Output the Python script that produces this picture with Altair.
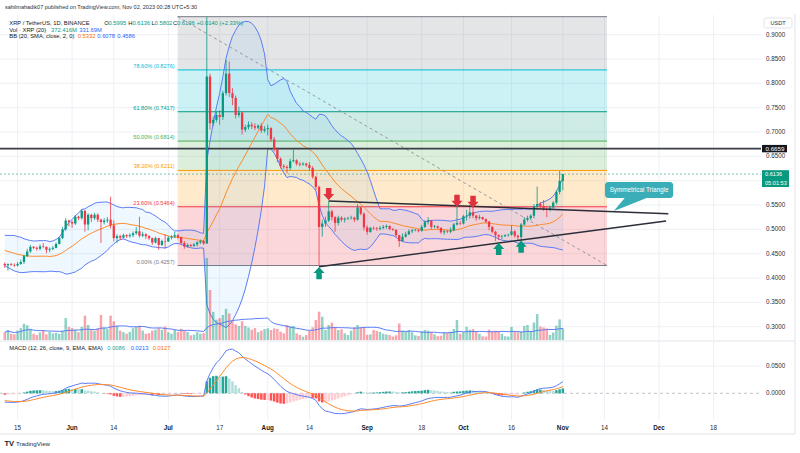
import altair as alt
import pandas as pd
import numpy as np

# ---------------- data (daily XRP/USDT, Binance) ----------------
WARM_START = "2023-04-11"   # closes before the visible window (indicator warm-up)
START = "2023-05-11"
REF = pd.Timestamp("2023-06-01")

WARMUP_CLOSE = [0.5080, 0.5040, 0.5130, 0.5250, 0.5260, 0.5230, 0.5110, 0.5260, 0.4860, 0.4730,
                0.4620, 0.4690, 0.4630, 0.4620, 0.4720, 0.4610, 0.4720, 0.4690, 0.4720, 0.4680,
                0.4580, 0.4620, 0.4640, 0.4580, 0.4720, 0.4480, 0.4480, 0.4290, 0.4300, 0.4290]

CLOSE = [
    # May 11-31
    0.4262, 0.4285, 0.4270, 0.4258, 0.4290, 0.4330, 0.4450, 0.4545, 0.4640, 0.4620, 0.4600,
    0.4650, 0.4640, 0.4580, 0.4600, 0.4620, 0.4700, 0.4820, 0.5000, 0.5180, 0.5150,
    # Jun
    0.5120, 0.5260, 0.5230, 0.5380, 0.5100, 0.5300, 0.5230, 0.5300, 0.5200, 0.5150,
    0.5180, 0.5200, 0.5080, 0.4820, 0.4860, 0.4830, 0.4880, 0.4860, 0.4880, 0.4920,
    0.4960, 0.4870, 0.4900, 0.4860, 0.4820, 0.4730, 0.4820, 0.4680, 0.4760, 0.4750,
    # Jul
    0.4830, 0.4850, 0.4880, 0.4840, 0.4720, 0.4650, 0.4680, 0.4660, 0.4690, 0.4730,
    0.4760, 0.4710, 0.8140, 0.7180, 0.7250, 0.7350, 0.7310, 0.7800, 0.8200, 0.7800,
    0.7700, 0.7350, 0.7400, 0.7050, 0.7100, 0.7150, 0.7120, 0.7090, 0.7130, 0.7030, 0.7060,
    # Aug
    0.7080, 0.6850, 0.6650, 0.6450, 0.6300, 0.6280, 0.6260, 0.6400, 0.6420, 0.6350,
    0.6330, 0.6350, 0.6320, 0.6260, 0.6080, 0.5870, 0.5050, 0.5120, 0.5180, 0.5370,
    0.5250, 0.5130, 0.5240, 0.5200, 0.5220, 0.5230, 0.5240, 0.5200, 0.5450, 0.5320, 0.5040,
    # Sep
    0.4950, 0.5030, 0.5020, 0.5010, 0.5030, 0.5050, 0.5070, 0.5010, 0.4990, 0.4880,
    0.4760, 0.4850, 0.4900, 0.4960, 0.4980, 0.4990, 0.4970, 0.5050, 0.5150, 0.5180,
    0.5050, 0.5060, 0.5030, 0.4940, 0.4960, 0.4950, 0.4980, 0.5100, 0.5130, 0.5120,
    # Oct
    0.5270, 0.5280, 0.5350, 0.5280, 0.5230, 0.5250, 0.5210, 0.5160, 0.5050, 0.4950,
    0.4880, 0.4850, 0.4860, 0.4880, 0.4890, 0.4960, 0.4870, 0.4840, 0.5100, 0.5200,
    0.5230, 0.5280, 0.5470, 0.5520, 0.5480, 0.5420, 0.5400, 0.5450, 0.5550, 0.5770, 0.5995,
    # Nov 1
    0.6136]

HIGH = [
    0.4320, 0.4300, 0.4310, 0.4300, 0.4330, 0.4380, 0.4480, 0.4600, 0.4680, 0.4660, 0.4650,
    0.4690, 0.4720, 0.4650, 0.4630, 0.4660, 0.4730, 0.4850, 0.5050, 0.5230, 0.5200,
    0.5180, 0.5290, 0.5280, 0.5420, 0.5400, 0.5330, 0.5320, 0.5340, 0.5330, 0.5220,
    0.5230, 0.5250, 0.5670, 0.5180, 0.4900, 0.4890, 0.4910, 0.4900, 0.4920, 0.4960,
    0.5050, 0.5260, 0.4950, 0.4920, 0.4880, 0.4830, 0.4850, 0.4830, 0.4790, 0.4900,
    0.4860, 0.4880, 0.4950, 0.4910, 0.4850, 0.4760, 0.4710, 0.4700, 0.4720, 0.4760,
    0.4790, 0.4780, 0.9370, 0.8200, 0.7320, 0.7420, 0.7450, 0.7850, 0.8480, 0.8450,
    0.7900, 0.7750, 0.7520, 0.7420, 0.7150, 0.7220, 0.7200, 0.7180, 0.7160, 0.7180, 0.7120,
    0.7150, 0.7100, 0.6900, 0.6680, 0.6480, 0.6340, 0.6320, 0.6450, 0.6660, 0.6440,
    0.6380, 0.6380, 0.6370, 0.6380, 0.6300, 0.6100, 0.5900, 0.5200, 0.5260, 0.5580,
    0.5400, 0.5270, 0.5280, 0.5270, 0.5250, 0.5260, 0.5280, 0.5260, 0.5520, 0.5460, 0.5350,
    0.5080, 0.5050, 0.5060, 0.5050, 0.5070, 0.5090, 0.5100, 0.5080, 0.5020, 0.5000,
    0.4890, 0.4920, 0.4950, 0.5000, 0.5010, 0.5010, 0.5000, 0.5090, 0.5190, 0.5250,
    0.5190, 0.5090, 0.5080, 0.5040, 0.4990, 0.4990, 0.5040, 0.5130, 0.5480, 0.5170,
    0.5300, 0.5400, 0.5500, 0.5460, 0.5300, 0.5300, 0.5260, 0.5220, 0.5170, 0.5070,
    0.4970, 0.4900, 0.4890, 0.4900, 0.4910, 0.5080, 0.4980, 0.4890, 0.5130, 0.5250,
    0.5280, 0.5310, 0.5520, 0.5880, 0.5560, 0.5600, 0.5470, 0.5480, 0.5580, 0.5800, 0.6200,
    0.6136]

LOW = [
    0.4210, 0.4150, 0.4250, 0.4230, 0.4240, 0.4270, 0.4290, 0.4430, 0.4520, 0.4590, 0.4560,
    0.4570, 0.4610, 0.4510, 0.4530, 0.4570, 0.4610, 0.4690, 0.4800, 0.4970, 0.5060,
    0.5030, 0.5090, 0.5190, 0.5200, 0.4950, 0.4980, 0.5150, 0.5190, 0.5150, 0.4720,
    0.5100, 0.5130, 0.5020, 0.4750, 0.4720, 0.4780, 0.4810, 0.4820, 0.4830, 0.4840,
    0.4890, 0.4830, 0.4840, 0.4800, 0.4780, 0.4680, 0.4710, 0.4580, 0.4660, 0.4600,
    0.4740, 0.4790, 0.4820, 0.4800, 0.4690, 0.4600, 0.4620, 0.4640, 0.4640, 0.4650,
    0.4700, 0.4680, 0.4700, 0.7050, 0.7120, 0.7200, 0.7150, 0.7250, 0.7750, 0.7720,
    0.7550, 0.7280, 0.7300, 0.6950, 0.7000, 0.7050, 0.7060, 0.7040, 0.7060, 0.6980, 0.6990,
    0.6930, 0.6800, 0.6600, 0.6380, 0.6250, 0.6240, 0.6150, 0.6220, 0.6380, 0.6310,
    0.6290, 0.6310, 0.6280, 0.6200, 0.6040, 0.5800, 0.4257, 0.4850, 0.5050, 0.5150,
    0.5180, 0.4950, 0.5080, 0.5160, 0.5140, 0.5190, 0.5200, 0.5150, 0.5180, 0.5290, 0.4980,
    0.4890, 0.4930, 0.4990, 0.4970, 0.4980, 0.5000, 0.5010, 0.4980, 0.4970, 0.4850,
    0.4640, 0.4750, 0.4830, 0.4880, 0.4920, 0.4960, 0.4940, 0.4950, 0.5030, 0.5100,
    0.5000, 0.5020, 0.5010, 0.4910, 0.4890, 0.4920, 0.4920, 0.4960, 0.5080, 0.5090,
    0.5100, 0.5180, 0.5220, 0.5230, 0.5180, 0.5200, 0.5190, 0.5130, 0.4980, 0.4920,
    0.4760, 0.4780, 0.4800, 0.4840, 0.4850, 0.4870, 0.4830, 0.4780, 0.4770, 0.5080,
    0.5160, 0.5190, 0.5230, 0.5400, 0.5420, 0.5380, 0.5250, 0.5370, 0.5420, 0.5510, 0.5720,
    0.5802]

VOLUME = [  # millions
    250, 320, 200, 180, 300, 380, 520, 470, 360, 200, 160, 240, 310, 180, 260, 210, 230, 200, 300, 700, 420,
    380, 330, 250, 420, 780, 480, 350, 300, 380, 800, 400, 350, 780, 600, 450, 300, 250, 200, 260, 380,
    420, 460, 300, 200, 220, 300, 330, 380, 320, 430,
    250, 200, 330, 260, 360, 300, 260, 150, 170, 250, 200, 220, 2620, 1600, 900, 650, 700, 800, 1000, 850,
    600, 500, 450, 600, 450, 400, 330, 380, 250, 300, 350,
    373, 320, 373, 352, 267, 213, 480, 427, 448, 213, 160, 107, 160, 300, 405, 640, 907, 747, 320, 480,
    555, 405, 320, 341, 213, 160, 300, 405, 480, 405, 405,
    170, 180, 320, 290, 260, 200, 180, 160, 110, 150, 530, 300, 270, 320, 250, 150, 130, 280, 320, 300,
    260, 180, 120, 140, 250, 230, 270, 350, 640, 200,
    250, 420, 330, 350, 260, 200, 120, 110, 330, 280, 300, 260, 200, 120, 110, 420, 280, 250, 270, 450,
    480, 270, 560, 830, 430, 400, 370, 160, 240, 460, 660,
    372]

FIB_VALUES = [0.4257, 0.5464, 0.6211, 0.6814, 0.7417, 0.8276, 0.9370]
FIB_LABELS = ["0.00% (0.4257)", "23.60% (0.5464)", "38.20% (0.6211)", "50.00% (0.6814)",
              "61.80% (0.7417)", "78.60% (0.8276)", ""]
FIB_COLORS = ["#787B86", "#F23645", "#FF9800", "#4CAF50", "#089981", "#00BCD4", "#787B86"]
FIB_START, FIB_END = "2023-07-03 22:05", "2023-11-14 18:30"

TRI_UPPER = [("2023-08-20 00:00", 0.5583), ("2023-12-03 21:30", 0.5322)]
TRI_LOWER = [("2023-08-17 00:00", 0.4233), ("2023-12-03 05:00", 0.5172)]
DOWN_ARROWS = [("2023-08-20", 0.5726), ("2023-09-29", 0.5587), ("2023-10-04", 0.5566)]
UP_ARROWS = [("2023-08-17", 0.4103), ("2023-10-12", 0.4597), ("2023-10-19", 0.4644)]
RESISTANCE = 0.6659
LAST_PRICE = 0.6136

PRICE_TICKS = [0.30, 0.35, 0.40, 0.45, 0.50, 0.55, 0.60, 0.65, 0.70, 0.75, 0.80, 0.85, 0.90]
HIDDEN_TICKS = [0.60]   # covered by the last-price tag in the reference
MACD_TICKS = [0.0, 0.05]
TIME_TICKS = ["2023-05-15", "2023-06-01", "2023-06-14", "2023-07-01", "2023-07-17", "2023-08-01",
              "2023-08-14", "2023-09-01", "2023-09-18", "2023-10-01", "2023-10-16", "2023-11-01",
              "2023-11-14", "2023-12-01", "2023-12-18"]
TIME_LABELS = ["15", "Jun", "14", "Jul", "17", "Aug", "14", "Sep", "18", "Oct", "16", "Nov", "14", "Dec", "18"]

# ---------------- layout constants ----------------
W, H = 761, 420
X0, X1 = -20.92, 213.23
FONT = "Liberation Sans"
UP, DN = "#089981", "#F23645"


def dnum(s):
    return (pd.Timestamp(s) - REF) / pd.Timedelta(days=1)


XS = alt.Scale(domain=[X0, X1], nice=False, zero=False)
PS = alt.Scale(domain=[0.10830, 0.97126], nice=False, zero=False)
VS = alt.Scale(domain=[-2560, 10880], nice=False, zero=False)
MS = alt.Scale(domain=[-0.0489, 0.72033], nice=False, zero=False)


def X(f="d"):
    return alt.X(f"{f}:Q", scale=XS, axis=None)


def Y(f, s):
    return alt.Y(f"{f}:Q", scale=s, axis=None)


# ---------------- derived tables ----------------
all_close = pd.Series(WARMUP_CLOSE + CLOSE, dtype=float)
all_dates = pd.date_range(WARM_START, periods=len(all_close), freq="D")
nwarm = len(WARMUP_CLOSE)

mid = all_close.rolling(20).mean()
sd = all_close.rolling(20).std(ddof=0)
ema12 = all_close.ewm(span=12, adjust=False).mean()
ema26 = all_close.ewm(span=26, adjust=False).mean()
macd = ema12 - ema26
signal = macd.ewm(span=9, adjust=False).mean()
hist = macd - signal

df = pd.DataFrame({
    "date": all_dates,
    "c": all_close,
    "o": all_close.shift(1),
    "mid": mid, "up": mid + 2 * sd, "lo": mid - 2 * sd,
    "macd": macd, "sig": signal, "hist": hist,
})
df["prev_hist"] = df["hist"].shift(1)
df = df.iloc[nwarm:].reset_index(drop=True)
df["h"] = HIGH
df["l"] = LOW
df["v"] = VOLUME
df["vma"] = pd.Series(VOLUME, dtype=float).rolling(20, min_periods=1).mean()
df["d"] = (df["date"] - REF) / pd.Timedelta(days=1)
df["col"] = np.where(df["c"] >= df["o"], UP, DN)


def hcol(r):
    if r["hist"] >= 0:
        return "#26A69A" if r["hist"] > r["prev_hist"] else "#B2DFDB"
    return "#FF5252" if r["hist"] < r["prev_hist"] else "#FFCDD2"


df["hcol"] = df.apply(hcol, axis=1)
df = df.drop(columns=["date"])

d1, d2 = dnum(FIB_START), dnum(FIB_END)
fib_lines = pd.DataFrame({"v": FIB_VALUES, "lab": FIB_LABELS, "col": FIB_COLORS, "d1": d1, "d2": d2})
fib_zones = pd.DataFrame({"lo": FIB_VALUES[:-1], "hi": FIB_VALUES[1:], "col": FIB_COLORS[1:], "d1": d1, "d2": d2})
diag = pd.DataFrame({"d1": [d1], "d2": [d2], "p1": [FIB_VALUES[-1]], "p2": [FIB_VALUES[0]]})
tri = pd.DataFrame({"d1": [dnum(TRI_UPPER[0][0]), dnum(TRI_LOWER[0][0])],
                    "d2": [dnum(TRI_UPPER[1][0]), dnum(TRI_LOWER[1][0])],
                    "p1": [TRI_UPPER[0][1], TRI_LOWER[0][1]],
                    "p2": [TRI_UPPER[1][1], TRI_LOWER[1][1]]})
down_df = pd.DataFrame({"d": [dnum(a) for a, _ in DOWN_ARROWS], "p": [b for _, b in DOWN_ARROWS]})
up_df = pd.DataFrame({"d": [dnum(a) for a, _ in UP_ARROWS], "p": [b for _, b in UP_ARROWS]})
pt = pd.DataFrame({"v": PRICE_TICKS, "lab": [f"{t:.4f}" for t in PRICE_TICKS]})
pt_lab = pt[~pt.v.round(4).isin(HIDDEN_TICKS)]
mt = pd.DataFrame({"v": MACD_TICKS, "lab": [f"{t:.4f}" for t in MACD_TICKS]})
tt = pd.DataFrame({"d": [dnum(t) for t in TIME_TICKS], "lab": TIME_LABELS,
                   "bold": [not lab.isdigit() for lab in TIME_LABELS]})

layers = []

# grid
layers.append(alt.Chart(pt).mark_rule(color="#eef0f5", strokeWidth=1).encode(
    y=Y("v", PS), x=alt.value(0), x2=alt.value(W)))
layers.append(alt.Chart(tt).mark_rule(color="#eef0f5", strokeWidth=1).encode(
    x=X(), y=alt.value(15), y2=alt.value(340)))
layers.append(alt.Chart(tt).mark_rule(color="#eef0f5", strokeWidth=1).encode(
    x=X(), y=alt.value(342), y2=alt.value(H)))
layers.append(alt.Chart(mt[mt.v > 0]).mark_rule(color="#eef0f5", strokeWidth=1).encode(
    y=Y("v", MS), x=alt.value(0), x2=alt.value(W)))
layers.append(alt.Chart(mt[mt.v == 0]).mark_rule(color="#b2b5be", strokeWidth=0.8, strokeDash=[3, 3]).encode(
    y=Y("v", MS), x=alt.value(0), x2=alt.value(W)))

# fib retracement
layers.append(alt.Chart(fib_zones).mark_rect(opacity=0.2).encode(
    x=X("d1"), x2="d2", y=Y("lo", PS), y2="hi", color=alt.Color("col:N", scale=None)))
layers.append(alt.Chart(fib_lines).mark_rule(strokeWidth=1).encode(
    x=X("d1"), x2="d2", y=Y("v", PS), color=alt.Color("col:N", scale=None)))
layers.append(alt.Chart(fib_lines).mark_text(align="right", baseline="bottom", dx=-3, dy=-1,
                                             fontSize=5.6, font=FONT).encode(
    x=X("d1"), y=Y("v", PS), text="lab:N", color=alt.Color("col:N", scale=None)))
layers.append(alt.Chart(diag).mark_rule(color="#9598a1", strokeWidth=1, strokeDash=[3, 3]).encode(
    x=X("d1"), x2="d2", y=Y("p1", PS), y2="p2"))

# Bollinger bands
layers.append(alt.Chart(df).mark_area(color="#2196F3", opacity=0.07).encode(
    x=X(), y=Y("up", PS), y2="lo"))
for f, c in (("up", "#5b7cf7"), ("lo", "#5b7cf7"), ("mid", "#FF8a2a")):
    layers.append(alt.Chart(df).mark_line(color=c, strokeWidth=1).encode(x=X(), y=Y(f, PS)))

# volume
layers.append(alt.Chart(df).mark_bar(size=2.5, opacity=0.45).encode(
    x=X(), y=Y("v", VS), color=alt.Color("col:N", scale=None)))
layers.append(alt.Chart(df).mark_line(color="#5b7cf7", strokeWidth=1).encode(x=X(), y=Y("vma", VS)))

# horizontal levels
layers.append(alt.Chart(pd.DataFrame({"v": [LAST_PRICE]})).mark_rule(
    color="#089981", strokeWidth=0.8, strokeDash=[2, 2], opacity=0.7).encode(
    y=Y("v", PS), x=alt.value(0), x2=alt.value(W)))
layers.append(alt.Chart(pd.DataFrame({"v": [RESISTANCE]})).mark_rule(
    color="#3a3d45", strokeWidth=1.6).encode(y=Y("v", PS), x=alt.value(0), x2=alt.value(W)))

# candles
layers.append(alt.Chart(df).mark_rule(strokeWidth=0.8).encode(
    x=X(), y=Y("l", PS), y2="h", color=alt.Color("col:N", scale=None)))
layers.append(alt.Chart(df).mark_rule(strokeWidth=2.3).encode(
    x=X(), y=Y("o", PS), y2="c", color=alt.Color("col:N", scale=None)))

# symmetrical triangle
layers.append(alt.Chart(tri).mark_rule(color="#2a2e39", strokeWidth=1.4).encode(
    x=X("d1"), x2="d2", y=Y("p1", PS), y2="p2"))

DOWN_PATH = "M-0.45,-1L0.45,-1L0.45,0L0.9,0L0,1L-0.9,0L-0.45,0Z"
UP_PATH = "M-0.45,1L0.45,1L0.45,0L0.9,0L0,-1L-0.9,0L-0.45,0Z"
layers.append(alt.Chart(down_df).mark_point(shape=DOWN_PATH, filled=True, size=150, opacity=1,
                                            color="#E0323F", strokeWidth=0).encode(x=X(), y=Y("p", PS)))
layers.append(alt.Chart(up_df).mark_point(shape=UP_PATH, filled=True, size=150, opacity=1,
                                          color="#089981", strokeWidth=0).encode(x=X(), y=Y("p", PS)))

# callout
box = pd.DataFrame({"d1": [dnum("2023-11-14 03:30")], "d2": [dnum("2023-12-05 09:30")],
                    "p1": [0.5973], "p2": [0.5644], "t": ["Symmetrical Triangle"]})
box["dm"] = (box.d1 + box.d2) / 2
box["pm"] = (box.p1 + box.p2) / 2
pointer = pd.DataFrame({"d": [dnum("2023-11-16 21:30"), dnum("2023-11-20 07:00"), dnum("2023-11-27 02:30")],
                        "p": [0.5377, 0.5644, 0.5644], "p2": [0.5377, 0.5466, 0.5644]})
layers.append(alt.Chart(pointer).mark_area(color="#3aaeb8").encode(x=X(), y=Y("p", PS), y2="p2"))
layers.append(alt.Chart(box).mark_rect(color="#3aaeb8", cornerRadius=3).encode(
    x=X("d1"), x2="d2", y=Y("p1", PS), y2="p2"))
layers.append(alt.Chart(box).mark_text(color="white", fontSize=6.3, font=FONT).encode(
    x=X("dm"), y=Y("pm", PS), text="t:N"))

# MACD
layers.append(alt.Chart(df).mark_bar(size=2.5).encode(
    x=X(), y=Y("hist", MS), color=alt.Color("hcol:N", scale=None)))
layers.append(alt.Chart(df).mark_line(color="#5b7cf7", strokeWidth=1).encode(x=X(), y=Y("macd", MS)))
layers.append(alt.Chart(df).mark_line(color="#FF8a2a", strokeWidth=1).encode(x=X(), y=Y("sig", MS)))

# pane borders
ONE = alt.Data(values=[{}])
layers.append(alt.Chart(ONE).mark_rule(color="#e0e3eb", strokeWidth=1).encode(
    x=alt.value(0), x2=alt.value(795), y=alt.value(341)))
layers.append(alt.Chart(ONE).mark_rule(color="#e0e3eb", strokeWidth=1).encode(
    x=alt.value(0), x2=alt.value(795), y=alt.value(434)))
layers.append(alt.Chart(ONE).mark_rule(color="#e0e3eb", strokeWidth=1).encode(
    x=alt.value(795), y=alt.value(14), y2=alt.value(434)))

# axis labels
layers.append(alt.Chart(pt_lab).mark_text(align="left", baseline="middle", fontSize=6.3, font=FONT,
                                          color="#2a2e39").encode(
    y=Y("v", PS), x=alt.value(766), text="lab:N"))
layers.append(alt.Chart(mt).mark_text(align="left", baseline="middle", fontSize=6.3, font=FONT,
                                      color="#2a2e39").encode(
    y=Y("v", MS), x=alt.value(766), text="lab:N"))
layers.append(alt.Chart(tt[~tt.bold]).mark_text(baseline="middle", fontSize=6.3, font=FONT,
                                                color="#2a2e39").encode(
    x=X(), y=alt.value(427.7), text="lab:N"))
layers.append(alt.Chart(tt[tt.bold]).mark_text(baseline="middle", fontSize=6.3, font=FONT, fontWeight="bold",
                                               color="#131722").encode(
    x=X(), y=alt.value(427.7), text="lab:N"))

# price tags
layers.append(alt.Chart(pd.DataFrame({"a": [RESISTANCE + 0.0076], "b": [RESISTANCE - 0.0076]})).mark_rect(
    color="#131722").encode(y=Y("a", PS), y2="b", x=alt.value(762), x2=alt.value(787)))
layers.append(alt.Chart(pd.DataFrame({"v": [RESISTANCE], "t": [f"{RESISTANCE:.4f}"]})).mark_text(
    align="left", baseline="middle", fontSize=6.2, font=FONT, color="white").encode(
    y=Y("v", PS), x=alt.value(765.5), text="t:N"))
layers.append(alt.Chart(pd.DataFrame({"a": [LAST_PRICE + 0.0080], "b": [0.5870]})).mark_rect(
    color="#089981").encode(y=Y("a", PS), y2="b", x=alt.value(762), x2=alt.value(789)))
layers.append(alt.Chart(pd.DataFrame({"v": [LAST_PRICE, 0.5962], "t": [f"{LAST_PRICE:.4f}", "05:01:53"]})).mark_text(
    align="left", baseline="middle", fontSize=5.6, font=FONT, color="white").encode(
    y=Y("v", PS), x=alt.value(765), text="t:N"))

# USDT box
layers.append(alt.Chart(ONE).mark_rect(fill="white", stroke="#e0e3eb", strokeWidth=1, cornerRadius=2).encode(
    x=alt.value(764), x2=alt.value(792), y=alt.value(18), y2=alt.value(28)))
layers.append(alt.Chart(ONE).mark_text(fontSize=5.5, font=FONT, color="#2a2e39").encode(
    x=alt.value(778), y=alt.value(23), text=alt.value("USDT")))

# header / legends
DARK, TEAL, BLUE, ORANGE = "#131722", "#089981", "#2962FF", "#FF6D00"
S = 5.8
HEADER = [
    (5, 6.7, "sahilmahadik07 published on TradingView.com, Nov 02, 2023 00:28 UTC+5:30", "#2a2e39", 5.5),
    (9.3, 22.7, "XRP / TetherUS, 1D, BINANCE", DARK, S),
    (104.3, 22.7, "O", DARK, S), (108.5, 22.7, "0.5995", TEAL, S),
    (128.3, 22.7, "H", DARK, S), (132.5, 22.7, "0.6136", TEAL, S),
    (151.5, 22.7, "L", DARK, S), (154.6, 22.7, "0.5802", TEAL, S),
    (173.0, 22.7, "C", DARK, S), (177.0, 22.7, "0.6136", TEAL, S),
    (196.7, 22.7, "+0.0140 (+2.33%)", TEAL, S),
    (9.3, 29.5, "Vol · XRP (20)", DARK, S), (51, 29.5, "372.416M", TEAL, S),
    (79.3, 29.5, "331.69M", BLUE, S),
    (9.3, 36.3, "BB (20, SMA, close, 2, 0)", DARK, S), (77.7, 36.3, "0.5332", ORANGE, S),
    (97.3, 36.3, "0.6078", BLUE, S), (117.3, 36.3, "0.4586", BLUE, S),
    (9.3, 348.3, "MACD (12, 26, close, 9, EMA, EMA)", DARK, S), (107.3, 348.3, "0.0086", "#26A69A", S),
    (130.7, 348.3, "0.0213", BLUE, S), (152.7, 348.3, "0.0127", ORANGE, S),
    (16, 444, "TradingView", "#2a2e39", 6.2),
]
for x, y, t, c, s in HEADER:
    layers.append(alt.Chart(ONE).mark_text(align="left", baseline="middle", fontSize=s, font=FONT, color=c).encode(
        x=alt.value(x), y=alt.value(y), text=alt.value(t)))
layers.append(alt.Chart(ONE).mark_text(align="left", baseline="middle", fontSize=7.5, font=FONT,
                                       fontWeight="bold", color="#131722").encode(
    x=alt.value(4.5), y=alt.value(444), text=alt.value("TV")))

chart = alt.layer(*layers).resolve_scale(y="independent").properties(
    width=W, height=H,
    autosize=alt.AutoSizeParams(type="none"),
    padding={"left": 0, "top": 0, "right": 39, "bottom": 33},
    background="white",
).configure_view(strokeWidth=0)

chart.save("out.html", embed_options={"renderer": "svg", "actions": False})
